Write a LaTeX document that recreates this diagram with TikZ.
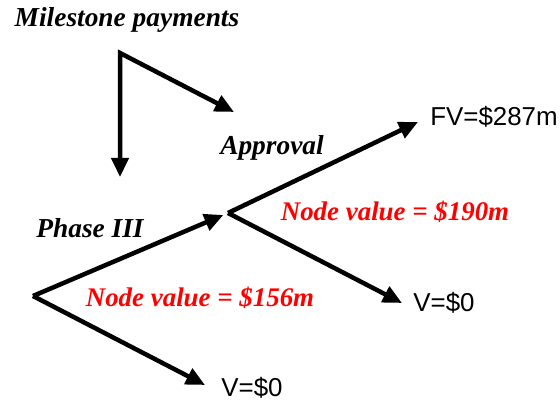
\documentclass[tikz,border=0pt]{standalone}
\usepackage{fontspec}
\newfontfamily\labelsans{Liberation Sans}
\newfontfamily\labelserif{Liberation Serif}
\usetikzlibrary{arrows.meta}
\tikzset{
  branch/.style={black,line width=4.5bp,-{Triangle[length=19bp,width=17bp]}},
  phase/.style={font=\labelserif\fontsize{27.5}{30}\selectfont\bfseries\itshape},
  nodevalue/.style={red,font=\labelserif\fontsize{27}{30}\selectfont\bfseries\itshape},
  payoff/.style={font=\labelsans\fontsize{26}{30}\selectfont},
}
\begin{document}
\begin{tikzpicture}[>=latex,line join=miter]
\useasboundingbox (0bp,0bp) rectangle (560bp,403bp);
%%
\coordinate (root) at (33bp,107bp);
\coordinate (mid) at (228bp,190bp);
\coordinate (fail_1) at (205bp,18bp);
\coordinate (success) at (418bp,281bp);
\coordinate (fail_2) at (402bp,100bp);
\coordinate (corner) at (120bp,350bp);
\coordinate (pay_1) at (120bp,226bp);
\coordinate (pay_2) at (234bp,291bp);
%
\node (milestone) at (127bp,383bp) [phase] {Milestone payments};
  \node (approval) at (272bp,255bp) [phase] {Approval};
  \node (phase3) at (90bp,175bp) [phase] {Phase III};
  \node (value_2) at (395bp,191bp) [nodevalue] {Node value = \$190m};
  \node (value_1) at (200bp,105bp) [nodevalue] {Node value = \$156m};
  \node (fv) at (494bp,286bp) [payoff] {FV=\$287m};
  \node (v_2) at (444bp,100bp) [payoff] {V=\$0};
  \node (v_1) at (252bp,15bp) [payoff] {V=\$0};
%
\draw [branch,shorten >=5bp] (root) -- (mid);
  \draw [branch] (root) -- (fail_1);
  \draw [branch] (mid) -- (success);
  \draw [branch] (mid) -- (fail_2);
  \draw [branch,{Triangle[length=19bp,width=17bp]}-{Triangle[length=19bp,width=17bp]}] (pay_1) -- (corner) -- (pay_2);
%
\end{tikzpicture}
\end{document}
